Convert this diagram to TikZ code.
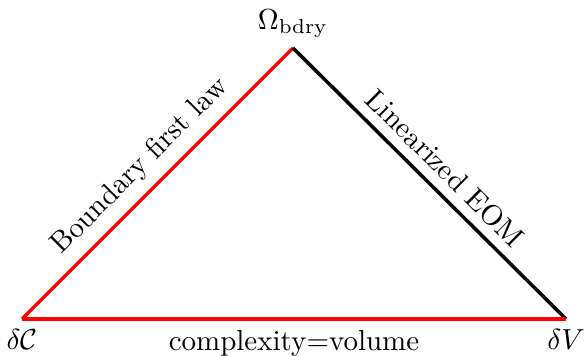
\documentclass[tikz,border=0pt]{standalone}
\begin{document}
\begin{tikzpicture}[x=0.345pt,y=-0.345pt,
  edge/.style={line width=1.2pt},
  lbl/.style={inner sep=3.33pt,text=black}]
\useasboundingbox (0,0) rectangle (584,356);
\coordinate (C) at (22,319);
\coordinate (O) at (293,48);
\coordinate (V) at (566,319);
\node[lbl,anchor=south] (Olab) at (O) {$\Omega_{\mathrm{bdry}}$};
\node[lbl,anchor=north] (Clab) at (C) {$\delta\mathcal{C}$};
\node[lbl,anchor=north] (Vlab) at (V) {$\delta V$};
\draw[edge,red] (C) -- node[lbl,midway,above,sloped] (bfl) {Boundary first law} (O);
\draw[edge,black] (O) -- node[lbl,midway,above,sloped] (eom) {Linearized EOM} (V);
\draw[edge,red] (C) -- node[lbl,midway,below] (cv) {complexity=volume} (V);
\end{tikzpicture}
\end{document}
